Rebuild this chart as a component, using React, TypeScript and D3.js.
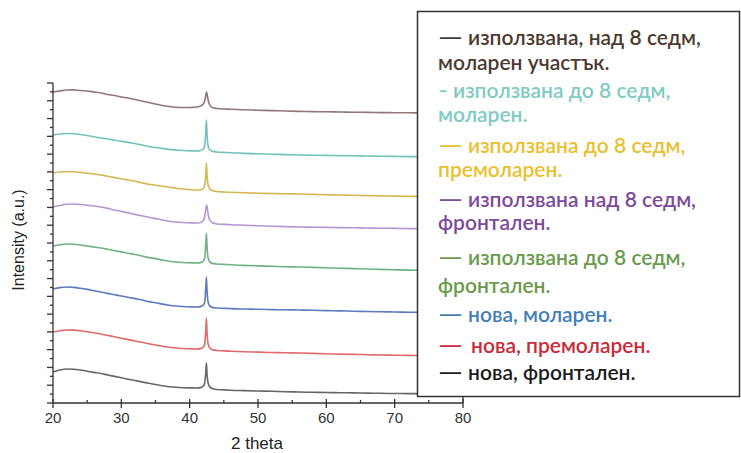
import React from "react";
import * as d3 from "d3";

// 2-theta sampling positions (degrees)
const theta = [20,21,22,23,24,25,26,27,28,29,30,31,32,33,34,35,36,37,38,39,40,41,
  41.6,42.0,42.2,42.35,42.45,42.55,42.7,42.9,43.3,
  44,45,46,48,50,52,54,56,58,60,62,64,66,68,70,72,74,76,78,80];

// Intensity (a.u., offset stacked)
const usedOver8Molar = [3110,3120,3130,3131,3125,3120,3110,3100,3085,3075,3060,3050,3035,3020,3005,2990,2975,2965,2958,2955,2955,2960,
  2970,2990,3020,3070,3110,3090,3030,2985,2955,
  2945,2940,2938,2932,2928,2924,2920,2916,2914,2912,2910,2908,2906,2904,2903,2902,2901,2900,2900,2898];
const usedUpTo8Molar = [2680,2690,2695,2693,2685,2675,2663,2650,2640,2628,2617,2606,2595,2580,2565,2555,2545,2536,2530,2525,2522,2520,
  2525,2540,2580,2700,2830,2680,2570,2535,2518,
  2510,2506,2502,2496,2492,2488,2484,2480,2478,2476,2474,2472,2470,2468,2466,2464,2463,2462,2461,2460];
const usedUpTo8Premolar = [2300,2310,2315,2313,2306,2298,2290,2280,2267,2254,2242,2230,2217,2202,2188,2178,2167,2158,2148,2140,2134,2130,
  2133,2145,2180,2280,2400,2270,2180,2145,2125,
  2115,2110,2107,2102,2098,2095,2092,2090,2086,2083,2080,2077,2074,2071,2069,2067,2065,2063,2061,2060];
const usedOver8Frontal = [1960,1975,1987,1990,1985,1978,1970,1960,1946,1930,1916,1901,1886,1872,1858,1844,1830,1818,1810,1805,1802,1800,
  1806,1825,1860,1930,1980,1960,1890,1835,1805,
  1790,1786,1783,1778,1773,1768,1764,1760,1758,1756,1754,1752,1750,1748,1746,1744,1743,1742,1741,1740];
const usedUpTo8Frontal = [1570,1583,1590,1588,1580,1570,1560,1550,1537,1524,1511,1498,1485,1470,1454,1444,1430,1418,1410,1405,1402,1400,
  1404,1420,1450,1580,1700,1550,1450,1415,1396,
  1390,1386,1382,1376,1371,1367,1363,1360,1356,1352,1348,1344,1340,1336,1332,1329,1326,1324,1322,1320];
const newMolar = [1140,1154,1160,1156,1147,1136,1123,1110,1096,1083,1070,1058,1044,1030,1014,1003,989,978,970,965,962,960,
  964,980,1010,1140,1260,1110,1010,975,956,
  950,947,944,940,937,934,932,930,927,924,921,918,915,912,910,908,906,904,902,900];
const newPremolar = [710,723,730,729,723,713,702,690,676,662,648,634,620,607,593,580,568,557,550,545,542,540,
  544,560,590,720,850,690,590,555,533,
  525,521,518,513,509,505,502,500,496,492,489,486,483,480,478,476,474,472,471,470];
const newFrontal = [310,330,340,338,330,318,306,295,280,266,252,238,225,211,197,185,172,163,157,153,151,150,
  154,170,200,300,400,280,200,165,144,
  135,131,128,124,120,117,113,110,107,105,103,101,99,97,95,94,93,92,91,90];

const seriesValues = [usedOver8Molar, usedUpTo8Molar, usedUpTo8Premolar, usedOver8Frontal,
  usedUpTo8Frontal, newMolar, newPremolar, newFrontal];
const lineColors = ["#86676c", "#62bdb3", "#cfae3c", "#ab8ccc", "#5fa874", "#4a6cb8", "#db5a5a", "#555555"];

// Legend entries: [first line, second line]
const legendLines: string[][] = [
  ["използвана, над 8 седм,", "моларен участък."],
  ["използвана до 8 седм,", "моларен."],
  ["използвана до 8 седм,", "премоларен."],
  ["използвана над 8 седм,", "фронтален."],
  ["използвана до 8 седм,", "фронтален."],
  ["нова, моларен."],
  ["нова, премоларен."],
  ["нова, фронтален."],
];
const legendDashes = ["—", "–", "—", "—", "—", "—", "—", "—"];
const legendTextColors = ["#4d3a2f", "#7fcbc2", "#e9c02e", "#7d4a9c", "#6a9a4c", "#4280b6", "#c92b3a", "#1c1c1c"];

const xTicks = [20, 30, 40, 50, 60, 70, 80];
const xLabel = "2 theta";
const yLabel = "Intensity (a.u.)";

export default function App() {
  const W = 741, H = 453;
  const x = d3.scaleLinear().domain([20, 80]).range([53, 463]);
  const y = d3.scaleLinear().domain([0, 3200]).range([403, 83]);
  const line = d3.line<number>().x((_, i) => x(theta[i])).y((d) => y(d)).curve(d3.curveMonotoneX);

  const yMajor = d3.range(0, 19).map((i) => (i * 3200) / 18);
  const yMinor = d3.range(0, 18).map((i) => ((i + 0.5) * 3200) / 18);
  const xMinor = d3.range(25, 80, 10);

  // legend layout
  const baselines = [[45, 70], [98, 122], [153, 177], [207, 230], [265, 293], [322], [353], [380]];
  const textStart = [468, 453, 468, 468, 468, 468, 471, 468];
  const dashLen = [25, 10, 25, 25, 25, 25, 25, 25];

  return (
    <svg width={W} height={H} style={{ position: "absolute", left: 0, top: 0, background: "#fff" }}
      fontFamily="'Liberation Sans', Arial, sans-serif">
      <rect x={0} y={0} width={W} height={H} fill="#fff" />
      {/* series */}
      {seriesValues.map((vals, k) => (
        <path key={k} d={line(vals) || ""} fill="none" stroke={lineColors[k]} strokeWidth={1.6}
          strokeLinejoin="round" opacity={0.9} />
      ))}
      {/* axes */}
      <g stroke="#333" strokeWidth={1.3}>
        <line x1={53} x2={53} y1={y(3200)} y2={403.5} />
        <line x1={52.5} x2={463} y1={403} y2={403} />
        <line x1={463} x2={463} y1={83} y2={403} />
        {yMajor.map((v, i) => (
          <line key={"ym" + i} x1={47} x2={53} y1={y(v)} y2={y(v)} />
        ))}
        {yMinor.map((v, i) => (
          <line key={"yn" + i} x1={50} x2={53} y1={y(v)} y2={y(v)} />
        ))}
        {xTicks.map((t) => (
          <line key={"xm" + t} x1={x(t)} x2={x(t)} y1={399} y2={408} />
        ))}
        {xMinor.map((t) => (
          <line key={"xn" + t} x1={x(t)} x2={x(t)} y1={400} y2={403} />
        ))}
      </g>
      <g fill="#333" fontSize={15} textAnchor="middle">
        {xTicks.map((t) => (
          <text key={"xl" + t} x={x(t)} y={423}>{t}</text>
        ))}
      </g>
      <text x={257} y={449} fontSize={17} textAnchor="middle" fill="#222">{xLabel}</text>
      <text transform="translate(24,240) rotate(-90)" fontSize={16} textAnchor="middle" fill="#222">{yLabel}</text>
      {/* legend */}
      <rect x={417.5} y={11.5} width={322} height={385} fill="#fff" stroke="#333" strokeWidth={1.5} />
      <g fontFamily="Lato, 'Open Sans', sans-serif" fontSize={21} fontWeight={600}>
        {legendLines.map((lines, k) => (
          <g key={"lg" + k} fill={legendTextColors[k]}>
            <text x={438} y={baselines[k][0]} textLength={dashLen[k]} lengthAdjust="spacingAndGlyphs">{legendDashes[k]}</text>
            <text x={textStart[k]} y={baselines[k][0]}>{lines[0]}</text>
            {lines[1] && <text x={438} y={baselines[k][1]}>{lines[1]}</text>}
          </g>
        ))}
      </g>
    </svg>
  );
}
